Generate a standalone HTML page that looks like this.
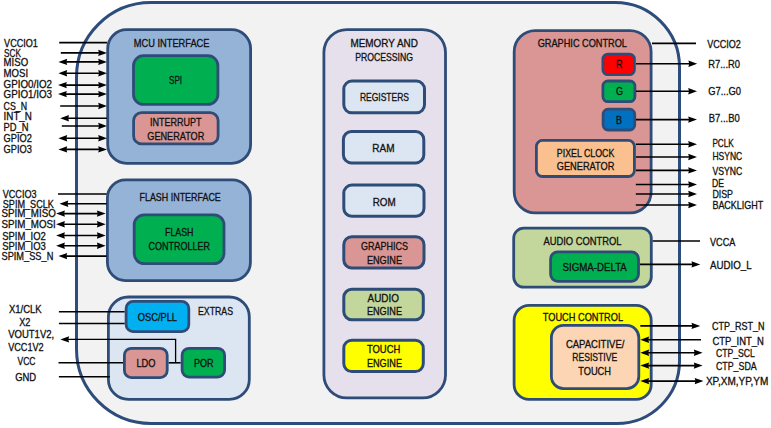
<!DOCTYPE html>
<html><head><meta charset="utf-8"><title>Block diagram</title>
<style>
html,body{margin:0;padding:0;background:#fff;width:771px;height:428px;overflow:hidden}
svg{display:block;font-family:"Liberation Sans",sans-serif}
</style></head><body>
<svg width="771" height="428" viewBox="0 0 771 428">
<rect x="0" y="0" width="771" height="428" fill="#fff"/>
<path d="M151.0,2.5 L615.0,2.5 A64.5,64.5 0 0 1 679.5,67.0 L679.5,361.0 A62.5,62.5 0 0 1 617.0,423.5 L151.0,423.5 A74.5,74.5 0 0 1 76.5,349.0 L76.5,77.0 A74.5,74.5 0 0 1 151.0,2.5 Z" fill="#F2F2F2" stroke="#2C4D7C" stroke-width="3"/>
<rect x="107.70" y="29.70" width="142.90" height="133.70" rx="19" ry="19" fill="#95B3D7" stroke="#2E4C78" stroke-width="2.8"/>
<text x="133.80" y="46.80" font-size="10.2" textLength="75.70" lengthAdjust="spacingAndGlyphs" fill="#111111" stroke="#111111" stroke-width="0.3">MCU INTERFACE</text>
<rect x="133.50" y="55.70" width="84.40" height="48.70" rx="10" ry="10" fill="#00B050" stroke="#2E4C78" stroke-width="2.8"/>
<text x="169.00" y="83.80" font-size="10.2" textLength="13.00" lengthAdjust="spacingAndGlyphs" fill="#111111" stroke="#111111" stroke-width="0.3">SPI</text>
<rect x="133.60" y="112.60" width="84.50" height="31.30" rx="8" ry="8" fill="#D99694" stroke="#2E4C78" stroke-width="2.8"/>
<text x="150.00" y="126.00" font-size="10.2" textLength="51.50" lengthAdjust="spacingAndGlyphs" fill="#111111" stroke="#111111" stroke-width="0.3">INTERRUPT</text>
<text x="147.30" y="139.70" font-size="10.2" textLength="57.00" lengthAdjust="spacingAndGlyphs" fill="#111111" stroke="#111111" stroke-width="0.3">GENERATOR</text>
<rect x="107.40" y="179.90" width="143.00" height="100.70" rx="18" ry="18" fill="#95B3D7" stroke="#2E4C78" stroke-width="2.8"/>
<text x="139.50" y="201.30" font-size="10.2" textLength="81.30" lengthAdjust="spacingAndGlyphs" fill="#111111" stroke="#111111" stroke-width="0.3">FLASH INTERFACE</text>
<rect x="134.20" y="214.80" width="89.80" height="48.80" rx="10" ry="10" fill="#00B050" stroke="#2E4C78" stroke-width="2.8"/>
<text x="165.00" y="236.00" font-size="10.2" textLength="28.50" lengthAdjust="spacingAndGlyphs" fill="#111111" stroke="#111111" stroke-width="0.3">FLASH</text>
<text x="148.60" y="249.50" font-size="10.2" textLength="61.40" lengthAdjust="spacingAndGlyphs" fill="#111111" stroke="#111111" stroke-width="0.3">CONTROLLER</text>
<rect x="108.40" y="297.00" width="140.90" height="102.40" rx="20" ry="20" fill="#DCE6F2" stroke="#2E4C78" stroke-width="2.8"/>
<text x="198.00" y="315.20" font-size="10.2" textLength="35.00" lengthAdjust="spacingAndGlyphs" fill="#111111" stroke="#111111" stroke-width="0.3">EXTRAS</text>
<line x1="58.90" y1="311.80" x2="124.70" y2="311.80" stroke="#000" stroke-width="1.6"/>
<line x1="58.90" y1="323.50" x2="124.70" y2="323.50" stroke="#000" stroke-width="1.6"/>
<line x1="58.50" y1="362.80" x2="123.00" y2="362.80" stroke="#000" stroke-width="1.6"/>
<line x1="168.60" y1="362.80" x2="180.70" y2="362.80" stroke="#000" stroke-width="1.6"/>
<line x1="58.90" y1="376.80" x2="109.90" y2="376.80" stroke="#000" stroke-width="1.6"/>
<polyline points="64,339.4 175.6,339.4 175.6,362.8" fill="none" stroke="#000" stroke-width="1.3"/>
<path d="M60.30,339.40 L69.10,336.20 L68.30,339.40 L69.10,342.60 Z" fill="#000"/>
<rect x="126.10" y="301.40" width="62.70" height="30.20" rx="7" ry="7" fill="#00B0F0" stroke="#2E4C78" stroke-width="2.8"/>
<text x="137.80" y="320.80" font-size="10.2" textLength="39.20" lengthAdjust="spacingAndGlyphs" fill="#111111" stroke="#111111" stroke-width="0.3">OSC/PLL</text>
<rect x="124.40" y="348.30" width="42.80" height="29.30" rx="7" ry="7" fill="#D99694" stroke="#2E4C78" stroke-width="2.8"/>
<text x="136.40" y="367.00" font-size="10.2" textLength="19.10" lengthAdjust="spacingAndGlyphs" fill="#111111" stroke="#111111" stroke-width="0.3">LDO</text>
<rect x="182.10" y="348.30" width="42.50" height="28.80" rx="7" ry="7" fill="#00B050" stroke="#2E4C78" stroke-width="2.8"/>
<text x="194.00" y="367.00" font-size="10.2" textLength="19.50" lengthAdjust="spacingAndGlyphs" fill="#111111" stroke="#111111" stroke-width="0.3">POR</text>
<rect x="323.90" y="29.60" width="121.60" height="368.30" rx="23" ry="23" fill="#E6E0EC" stroke="#2E4C78" stroke-width="2.8"/>
<text x="350.50" y="47.30" font-size="10.2" textLength="67.30" lengthAdjust="spacingAndGlyphs" fill="#111111" stroke="#111111" stroke-width="0.3">MEMORY AND</text>
<text x="355.20" y="60.90" font-size="10.2" textLength="57.80" lengthAdjust="spacingAndGlyphs" fill="#111111" stroke="#111111" stroke-width="0.3">PROCESSING</text>
<rect x="343.80" y="81.10" width="80.70" height="31.70" rx="8" ry="8" fill="#DCE6F2" stroke="#2E4C78" stroke-width="3"/>
<text x="359.90" y="101.30" font-size="10.2" textLength="49.10" lengthAdjust="spacingAndGlyphs" fill="#111111" stroke="#111111" stroke-width="0.3">REGISTERS</text>
<rect x="343.40" y="131.50" width="80.40" height="31.40" rx="8" ry="8" fill="#DCE6F2" stroke="#2E4C78" stroke-width="3"/>
<text x="372.30" y="151.50" font-size="10.2" textLength="22.20" lengthAdjust="spacingAndGlyphs" fill="#111111" stroke="#111111" stroke-width="0.3">RAM</text>
<rect x="343.80" y="185.10" width="80.20" height="31.10" rx="8" ry="8" fill="#DCE6F2" stroke="#2E4C78" stroke-width="3"/>
<text x="372.70" y="205.80" font-size="10.2" textLength="22.90" lengthAdjust="spacingAndGlyphs" fill="#111111" stroke="#111111" stroke-width="0.3">ROM</text>
<rect x="343.80" y="236.70" width="80.20" height="31.30" rx="8" ry="8" fill="#D99694" stroke="#2E4C78" stroke-width="3"/>
<text x="361.00" y="250.40" font-size="10.2" textLength="47.00" lengthAdjust="spacingAndGlyphs" fill="#111111" stroke="#111111" stroke-width="0.3">GRAPHICS</text>
<text x="366.90" y="263.90" font-size="10.2" textLength="35.10" lengthAdjust="spacingAndGlyphs" fill="#111111" stroke="#111111" stroke-width="0.3">ENGINE</text>
<rect x="343.80" y="289.30" width="79.50" height="30.40" rx="8" ry="8" fill="#C3D69B" stroke="#2E4C78" stroke-width="3"/>
<text x="367.60" y="302.30" font-size="10.2" textLength="31.40" lengthAdjust="spacingAndGlyphs" fill="#111111" stroke="#111111" stroke-width="0.3">AUDIO</text>
<text x="366.90" y="315.30" font-size="10.2" textLength="35.10" lengthAdjust="spacingAndGlyphs" fill="#111111" stroke="#111111" stroke-width="0.3">ENGINE</text>
<rect x="343.80" y="340.20" width="79.50" height="31.40" rx="8" ry="8" fill="#FFFF00" stroke="#2E4C78" stroke-width="3"/>
<text x="366.90" y="353.20" font-size="10.2" textLength="33.40" lengthAdjust="spacingAndGlyphs" fill="#111111" stroke="#111111" stroke-width="0.3">TOUCH</text>
<text x="366.90" y="366.80" font-size="10.2" textLength="35.10" lengthAdjust="spacingAndGlyphs" fill="#111111" stroke="#111111" stroke-width="0.3">ENGINE</text>
<rect x="514.20" y="30.70" width="136.90" height="182.20" rx="21" ry="21" fill="#D99694" stroke="#2E4C78" stroke-width="2.8"/>
<text x="537.70" y="47.30" font-size="10.2" textLength="89.30" lengthAdjust="spacingAndGlyphs" fill="#111111" stroke="#111111" stroke-width="0.3">GRAPHIC CONTROL</text>
<rect x="602.90" y="54.10" width="31.50" height="20.60" rx="5" ry="5" fill="#FF0000" stroke="#2E4C78" stroke-width="2.8"/>
<text x="616.00" y="67.90" font-size="10.2" textLength="6.50" lengthAdjust="spacingAndGlyphs" fill="#111111" stroke="#111111" stroke-width="0.3">R</text>
<rect x="602.90" y="81.00" width="32.00" height="20.60" rx="5" ry="5" fill="#00B050" stroke="#2E4C78" stroke-width="2.8"/>
<text x="616.00" y="95.20" font-size="10.2" textLength="7.00" lengthAdjust="spacingAndGlyphs" fill="#111111" stroke="#111111" stroke-width="0.3">G</text>
<rect x="603.10" y="109.20" width="31.60" height="20.80" rx="5" ry="5" fill="#0070C0" stroke="#2E4C78" stroke-width="2.8"/>
<text x="616.00" y="123.80" font-size="10.2" textLength="6.00" lengthAdjust="spacingAndGlyphs" fill="#111111" stroke="#111111" stroke-width="0.3">B</text>
<rect x="536.40" y="140.40" width="98.00" height="36.10" rx="6" ry="6" fill="#FAC090" stroke="#2E4C78" stroke-width="2.8"/>
<text x="556.80" y="156.60" font-size="10.2" textLength="57.50" lengthAdjust="spacingAndGlyphs" fill="#111111" stroke="#111111" stroke-width="0.3">PIXEL CLOCK</text>
<text x="556.80" y="170.00" font-size="10.2" textLength="57.50" lengthAdjust="spacingAndGlyphs" fill="#111111" stroke="#111111" stroke-width="0.3">GENERATOR</text>
<rect x="513.70" y="228.20" width="137.60" height="58.90" rx="10" ry="10" fill="#C3D69B" stroke="#2E4C78" stroke-width="2.8"/>
<text x="543.40" y="244.90" font-size="10.2" textLength="78.20" lengthAdjust="spacingAndGlyphs" fill="#111111" stroke="#111111" stroke-width="0.3">AUDIO CONTROL</text>
<rect x="550.60" y="251.90" width="87.90" height="29.40" rx="7" ry="7" fill="#00B050" stroke="#2E4C78" stroke-width="2.8"/>
<text x="562.50" y="270.80" font-size="10.2" textLength="64.30" lengthAdjust="spacingAndGlyphs" fill="#111111" stroke="#111111" stroke-width="0.3">SIGMA-DELTA</text>
<rect x="514.10" y="305.40" width="137.10" height="94.00" rx="15" ry="15" fill="#FFFF00" stroke="#2E4C78" stroke-width="2.8"/>
<text x="542.80" y="321.20" font-size="10.2" textLength="80.30" lengthAdjust="spacingAndGlyphs" fill="#111111" stroke="#111111" stroke-width="0.3">TOUCH CONTROL</text>
<rect x="551.40" y="325.40" width="87.40" height="63.20" rx="12" ry="12" fill="#FCD5B5" stroke="#2E4C78" stroke-width="2.8"/>
<text x="565.90" y="347.60" font-size="10.2" textLength="58.50" lengthAdjust="spacingAndGlyphs" fill="#111111" stroke="#111111" stroke-width="0.3">CAPACITIVE/</text>
<text x="572.30" y="361.30" font-size="10.2" textLength="44.90" lengthAdjust="spacingAndGlyphs" fill="#111111" stroke="#111111" stroke-width="0.3">RESISTIVE</text>
<text x="578.20" y="374.60" font-size="10.2" textLength="32.80" lengthAdjust="spacingAndGlyphs" fill="#111111" stroke="#111111" stroke-width="0.3">TOUCH</text>
<line x1="652.00" y1="43.40" x2="696.00" y2="43.40" stroke="#000" stroke-width="1.6"/>
<text x="707.30" y="48.00" font-size="10.2" textLength="33.60" lengthAdjust="spacingAndGlyphs" fill="#111111" stroke="#111111" stroke-width="0.3">VCCIO2</text>
<line x1="636.00" y1="63.70" x2="691.20" y2="63.70" stroke="#000" stroke-width="1.6"/>
<path d="M697.20,63.70 L688.40,60.50 L689.20,63.70 L688.40,66.90 Z" fill="#000"/>
<text x="708.20" y="67.90" font-size="10.2" textLength="31.80" lengthAdjust="spacingAndGlyphs" fill="#111111" stroke="#111111" stroke-width="0.3">R7...R0</text>
<line x1="636.00" y1="91.20" x2="691.00" y2="91.20" stroke="#000" stroke-width="1.6"/>
<path d="M697.00,91.20 L688.20,88.00 L689.00,91.20 L688.20,94.40 Z" fill="#000"/>
<text x="708.20" y="94.70" font-size="10.2" textLength="32.80" lengthAdjust="spacingAndGlyphs" fill="#111111" stroke="#111111" stroke-width="0.3">G7...G0</text>
<line x1="636.00" y1="119.60" x2="691.00" y2="119.60" stroke="#000" stroke-width="1.6"/>
<path d="M697.00,119.60 L688.20,116.40 L689.00,119.60 L688.20,122.80 Z" fill="#000"/>
<text x="708.80" y="122.30" font-size="10.2" textLength="30.90" lengthAdjust="spacingAndGlyphs" fill="#111111" stroke="#111111" stroke-width="0.3">B7...B0</text>
<line x1="636.00" y1="144.20" x2="691.00" y2="144.20" stroke="#000" stroke-width="1.6"/>
<path d="M697.00,144.20 L688.20,141.00 L689.00,144.20 L688.20,147.40 Z" fill="#000"/>
<text x="712.40" y="147.20" font-size="10.2" textLength="21.40" lengthAdjust="spacingAndGlyphs" fill="#111111" stroke="#111111" stroke-width="0.3">PCLK</text>
<line x1="636.00" y1="157.00" x2="691.00" y2="157.00" stroke="#000" stroke-width="1.6"/>
<path d="M697.00,157.00 L688.20,153.80 L689.00,157.00 L688.20,160.20 Z" fill="#000"/>
<text x="712.40" y="159.60" font-size="10.2" textLength="29.80" lengthAdjust="spacingAndGlyphs" fill="#111111" stroke="#111111" stroke-width="0.3">HSYNC</text>
<line x1="636.00" y1="170.40" x2="691.00" y2="170.40" stroke="#000" stroke-width="1.6"/>
<path d="M697.00,170.40 L688.20,167.20 L689.00,170.40 L688.20,173.60 Z" fill="#000"/>
<text x="712.40" y="175.00" font-size="10.2" textLength="29.80" lengthAdjust="spacingAndGlyphs" fill="#111111" stroke="#111111" stroke-width="0.3">VSYNC</text>
<line x1="635.80" y1="184.50" x2="691.00" y2="184.50" stroke="#000" stroke-width="1.6"/>
<path d="M697.00,184.50 L688.20,181.30 L689.00,184.50 L688.20,187.70 Z" fill="#000"/>
<text x="712.00" y="186.50" font-size="10.2" textLength="12.00" lengthAdjust="spacingAndGlyphs" fill="#111111" stroke="#111111" stroke-width="0.3">DE</text>
<line x1="635.80" y1="194.00" x2="691.00" y2="194.00" stroke="#000" stroke-width="1.6"/>
<path d="M697.00,194.00 L688.20,190.80 L689.00,194.00 L688.20,197.20 Z" fill="#000"/>
<text x="712.40" y="197.80" font-size="10.2" textLength="20.60" lengthAdjust="spacingAndGlyphs" fill="#111111" stroke="#111111" stroke-width="0.3">DISP</text>
<line x1="635.80" y1="205.00" x2="691.00" y2="205.00" stroke="#000" stroke-width="1.6"/>
<path d="M697.00,205.00 L688.20,201.80 L689.00,205.00 L688.20,208.20 Z" fill="#000"/>
<text x="712.40" y="208.90" font-size="10.2" textLength="50.90" lengthAdjust="spacingAndGlyphs" fill="#111111" stroke="#111111" stroke-width="0.3">BACKLIGHT</text>
<line x1="652.70" y1="241.00" x2="700.00" y2="241.00" stroke="#000" stroke-width="1.6"/>
<text x="710.00" y="245.70" font-size="10.2" textLength="25.30" lengthAdjust="spacingAndGlyphs" fill="#111111" stroke="#111111" stroke-width="0.3">VCCA</text>
<line x1="640.00" y1="264.40" x2="694.30" y2="264.40" stroke="#000" stroke-width="1.6"/>
<path d="M700.30,264.40 L691.50,261.20 L692.30,264.40 L691.50,267.60 Z" fill="#000"/>
<text x="710.00" y="269.00" font-size="10.2" textLength="41.60" lengthAdjust="spacingAndGlyphs" fill="#111111" stroke="#111111" stroke-width="0.3">AUDIO_L</text>
<line x1="640.30" y1="325.90" x2="694.30" y2="325.90" stroke="#000" stroke-width="1.6"/>
<path d="M700.30,325.90 L691.50,322.70 L692.30,325.90 L691.50,329.10 Z" fill="#000"/>
<text x="711.90" y="329.90" font-size="10.2" textLength="52.60" lengthAdjust="spacingAndGlyphs" fill="#111111" stroke="#111111" stroke-width="0.3">CTP_RST_N</text>
<line x1="646.30" y1="339.70" x2="701.00" y2="339.70" stroke="#000" stroke-width="1.6"/>
<path d="M640.30,339.70 L649.10,336.50 L648.30,339.70 L649.10,342.90 Z" fill="#000"/>
<text x="712.40" y="345.00" font-size="10.2" textLength="51.40" lengthAdjust="spacingAndGlyphs" fill="#111111" stroke="#111111" stroke-width="0.3">CTP_INT_N</text>
<line x1="646.30" y1="352.70" x2="696.60" y2="352.70" stroke="#000" stroke-width="1.6"/>
<path d="M640.30,352.70 L649.10,349.50 L648.30,352.70 L649.10,355.90 Z" fill="#000"/>
<path d="M702.60,352.70 L693.80,349.50 L694.60,352.70 L693.80,355.90 Z" fill="#000"/>
<text x="715.90" y="356.70" font-size="10.2" textLength="39.00" lengthAdjust="spacingAndGlyphs" fill="#111111" stroke="#111111" stroke-width="0.3">CTP_SCL</text>
<line x1="646.30" y1="365.60" x2="696.60" y2="365.60" stroke="#000" stroke-width="1.6"/>
<path d="M640.30,365.60 L649.10,362.40 L648.30,365.60 L649.10,368.80 Z" fill="#000"/>
<path d="M702.60,365.60 L693.80,362.40 L694.60,365.60 L693.80,368.80 Z" fill="#000"/>
<text x="715.90" y="369.60" font-size="10.2" textLength="40.90" lengthAdjust="spacingAndGlyphs" fill="#111111" stroke="#111111" stroke-width="0.3">CTP_SDA</text>
<line x1="646.30" y1="381.10" x2="697.50" y2="381.10" stroke="#000" stroke-width="1.6"/>
<path d="M640.30,381.10 L649.10,377.90 L648.30,381.10 L649.10,384.30 Z" fill="#000"/>
<path d="M703.50,381.10 L694.70,377.90 L695.50,381.10 L694.70,384.30 Z" fill="#000"/>
<text x="705.90" y="384.70" font-size="10.2" textLength="62.50" lengthAdjust="spacingAndGlyphs" fill="#111111" stroke="#111111" stroke-width="0.3">XP,XM,YP,YM</text>
<line x1="59.20" y1="42.60" x2="107.00" y2="42.60" stroke="#000" stroke-width="1.6"/>
<text x="4.10" y="46.80" font-size="10.2" textLength="33.80" lengthAdjust="spacingAndGlyphs" fill="#111111" stroke="#111111" stroke-width="0.3">VCCIO1</text>
<line x1="60.80" y1="52.90" x2="101.00" y2="52.90" stroke="#000" stroke-width="1.6"/>
<path d="M107.00,52.90 L98.20,49.70 L99.00,52.90 L98.20,56.10 Z" fill="#000"/>
<text x="4.10" y="56.60" font-size="10.2" textLength="16.80" lengthAdjust="spacingAndGlyphs" fill="#111111" stroke="#111111" stroke-width="0.3">SCK</text>
<line x1="64.40" y1="61.90" x2="101.00" y2="61.90" stroke="#000" stroke-width="1.6"/>
<path d="M58.40,61.90 L67.20,58.70 L66.40,61.90 L67.20,65.10 Z" fill="#000"/>
<path d="M107.00,61.90 L98.20,58.70 L99.00,61.90 L98.20,65.10 Z" fill="#000"/>
<text x="3.60" y="66.30" font-size="10.2" textLength="24.50" lengthAdjust="spacingAndGlyphs" fill="#111111" stroke="#111111" stroke-width="0.3">MISO</text>
<line x1="64.40" y1="73.30" x2="101.00" y2="73.30" stroke="#000" stroke-width="1.6"/>
<path d="M58.40,73.30 L67.20,70.10 L66.40,73.30 L67.20,76.50 Z" fill="#000"/>
<path d="M107.00,73.30 L98.20,70.10 L99.00,73.30 L98.20,76.50 Z" fill="#000"/>
<text x="3.60" y="76.90" font-size="10.2" textLength="24.50" lengthAdjust="spacingAndGlyphs" fill="#111111" stroke="#111111" stroke-width="0.3">MOSI</text>
<line x1="64.00" y1="85.10" x2="101.00" y2="85.10" stroke="#000" stroke-width="1.6"/>
<path d="M58.00,85.10 L66.80,81.90 L66.00,85.10 L66.80,88.30 Z" fill="#000"/>
<path d="M107.00,85.10 L98.20,81.90 L99.00,85.10 L98.20,88.30 Z" fill="#000"/>
<text x="3.60" y="88.40" font-size="10.2" textLength="48.40" lengthAdjust="spacingAndGlyphs" fill="#111111" stroke="#111111" stroke-width="0.3">GPIO0/IO2</text>
<line x1="64.00" y1="94.10" x2="101.00" y2="94.10" stroke="#000" stroke-width="1.6"/>
<path d="M58.00,94.10 L66.80,90.90 L66.00,94.10 L66.80,97.30 Z" fill="#000"/>
<path d="M107.00,94.10 L98.20,90.90 L99.00,94.10 L98.20,97.30 Z" fill="#000"/>
<text x="3.60" y="97.50" font-size="10.2" textLength="48.40" lengthAdjust="spacingAndGlyphs" fill="#111111" stroke="#111111" stroke-width="0.3">GPIO1/IO3</text>
<line x1="60.20" y1="106.00" x2="101.00" y2="106.00" stroke="#000" stroke-width="1.6"/>
<path d="M107.00,106.00 L98.20,102.80 L99.00,106.00 L98.20,109.20 Z" fill="#000"/>
<text x="3.60" y="110.00" font-size="10.2" textLength="23.40" lengthAdjust="spacingAndGlyphs" fill="#111111" stroke="#111111" stroke-width="0.3">CS_N</text>
<line x1="66.20" y1="118.20" x2="107.00" y2="118.20" stroke="#000" stroke-width="1.6"/>
<path d="M60.20,118.20 L69.00,115.00 L68.20,118.20 L69.00,121.40 Z" fill="#000"/>
<text x="3.60" y="120.30" font-size="10.2" textLength="28.30" lengthAdjust="spacingAndGlyphs" fill="#111111" stroke="#111111" stroke-width="0.3">INT_N</text>
<line x1="61.80" y1="126.00" x2="101.00" y2="126.00" stroke="#000" stroke-width="1.6"/>
<path d="M107.00,126.00 L98.20,122.80 L99.00,126.00 L98.20,129.20 Z" fill="#000"/>
<text x="3.60" y="130.60" font-size="10.2" textLength="25.00" lengthAdjust="spacingAndGlyphs" fill="#111111" stroke="#111111" stroke-width="0.3">PD_N</text>
<line x1="64.40" y1="138.30" x2="101.00" y2="138.30" stroke="#000" stroke-width="1.6"/>
<path d="M58.40,138.30 L67.20,135.10 L66.40,138.30 L67.20,141.50 Z" fill="#000"/>
<path d="M107.00,138.30 L98.20,135.10 L99.00,138.30 L98.20,141.50 Z" fill="#000"/>
<text x="3.60" y="142.40" font-size="10.2" textLength="28.30" lengthAdjust="spacingAndGlyphs" fill="#111111" stroke="#111111" stroke-width="0.3">GPIO2</text>
<line x1="64.40" y1="149.40" x2="101.00" y2="149.40" stroke="#000" stroke-width="1.6"/>
<path d="M58.40,149.40 L67.20,146.20 L66.40,149.40 L67.20,152.60 Z" fill="#000"/>
<path d="M107.00,149.40 L98.20,146.20 L99.00,149.40 L98.20,152.60 Z" fill="#000"/>
<text x="3.60" y="152.70" font-size="10.2" textLength="28.30" lengthAdjust="spacingAndGlyphs" fill="#111111" stroke="#111111" stroke-width="0.3">GPIO3</text>
<line x1="58.00" y1="194.00" x2="106.60" y2="194.00" stroke="#000" stroke-width="1.6"/>
<text x="2.80" y="198.10" font-size="10.2" textLength="33.70" lengthAdjust="spacingAndGlyphs" fill="#111111" stroke="#111111" stroke-width="0.3">VCCIO3</text>
<line x1="65.50" y1="203.70" x2="106.60" y2="203.70" stroke="#000" stroke-width="1.6"/>
<path d="M59.50,203.70 L68.30,200.50 L67.50,203.70 L68.30,206.90 Z" fill="#000"/>
<text x="2.80" y="208.40" font-size="10.2" textLength="51.10" lengthAdjust="spacingAndGlyphs" fill="#111111" stroke="#111111" stroke-width="0.3">SPIM_SCLK</text>
<line x1="62.10" y1="213.60" x2="99.70" y2="213.60" stroke="#000" stroke-width="1.6"/>
<path d="M56.10,213.60 L64.90,210.40 L64.10,213.60 L64.90,216.80 Z" fill="#000"/>
<path d="M105.70,213.60 L96.90,210.40 L97.70,213.60 L96.90,216.80 Z" fill="#000"/>
<text x="1.50" y="217.20" font-size="10.2" textLength="54.30" lengthAdjust="spacingAndGlyphs" fill="#111111" stroke="#111111" stroke-width="0.3">SPIM_MISO</text>
<line x1="62.10" y1="224.30" x2="99.70" y2="224.30" stroke="#000" stroke-width="1.6"/>
<path d="M56.10,224.30 L64.90,221.10 L64.10,224.30 L64.90,227.50 Z" fill="#000"/>
<path d="M105.70,224.30 L96.90,221.10 L97.70,224.30 L96.90,227.50 Z" fill="#000"/>
<text x="1.50" y="227.70" font-size="10.2" textLength="54.30" lengthAdjust="spacingAndGlyphs" fill="#111111" stroke="#111111" stroke-width="0.3">SPIM_MOSI</text>
<line x1="62.10" y1="235.50" x2="99.70" y2="235.50" stroke="#000" stroke-width="1.6"/>
<path d="M56.10,235.50 L64.90,232.30 L64.10,235.50 L64.90,238.70 Z" fill="#000"/>
<path d="M105.70,235.50 L96.90,232.30 L97.70,235.50 L96.90,238.70 Z" fill="#000"/>
<text x="2.20" y="239.60" font-size="10.2" textLength="43.60" lengthAdjust="spacingAndGlyphs" fill="#111111" stroke="#111111" stroke-width="0.3">SPIM_IO2</text>
<line x1="62.10" y1="245.80" x2="99.70" y2="245.80" stroke="#000" stroke-width="1.6"/>
<path d="M56.10,245.80 L64.90,242.60 L64.10,245.80 L64.90,249.00 Z" fill="#000"/>
<path d="M105.70,245.80 L96.90,242.60 L97.70,245.80 L96.90,249.00 Z" fill="#000"/>
<text x="2.20" y="249.50" font-size="10.2" textLength="43.60" lengthAdjust="spacingAndGlyphs" fill="#111111" stroke="#111111" stroke-width="0.3">SPIM_IO3</text>
<line x1="64.40" y1="256.10" x2="106.60" y2="256.10" stroke="#000" stroke-width="1.6"/>
<path d="M58.40,256.10 L67.20,252.90 L66.40,256.10 L67.20,259.30 Z" fill="#000"/>
<text x="1.50" y="260.20" font-size="10.2" textLength="51.80" lengthAdjust="spacingAndGlyphs" fill="#111111" stroke="#111111" stroke-width="0.3">SPIM_SS_N</text>
<text x="8.90" y="313.20" font-size="10.2" textLength="32.70" lengthAdjust="spacingAndGlyphs" fill="#111111" stroke="#111111" stroke-width="0.3">X1/CLK</text>
<text x="19.20" y="326.10" font-size="10.2" textLength="11.20" lengthAdjust="spacingAndGlyphs" fill="#111111" stroke="#111111" stroke-width="0.3">X2</text>
<text x="8.20" y="337.80" font-size="10.2" textLength="46.00" lengthAdjust="spacingAndGlyphs" fill="#111111" stroke="#111111" stroke-width="0.3">VOUT1V2,</text>
<text x="8.20" y="351.10" font-size="10.2" textLength="35.50" lengthAdjust="spacingAndGlyphs" fill="#111111" stroke="#111111" stroke-width="0.3">VCC1V2</text>
<text x="17.50" y="365.10" font-size="10.2" textLength="18.00" lengthAdjust="spacingAndGlyphs" fill="#111111" stroke="#111111" stroke-width="0.3">VCC</text>
<text x="15.20" y="381.00" font-size="10.2" textLength="21.00" lengthAdjust="spacingAndGlyphs" fill="#111111" stroke="#111111" stroke-width="0.3">GND</text>
</svg>
</body></html>
